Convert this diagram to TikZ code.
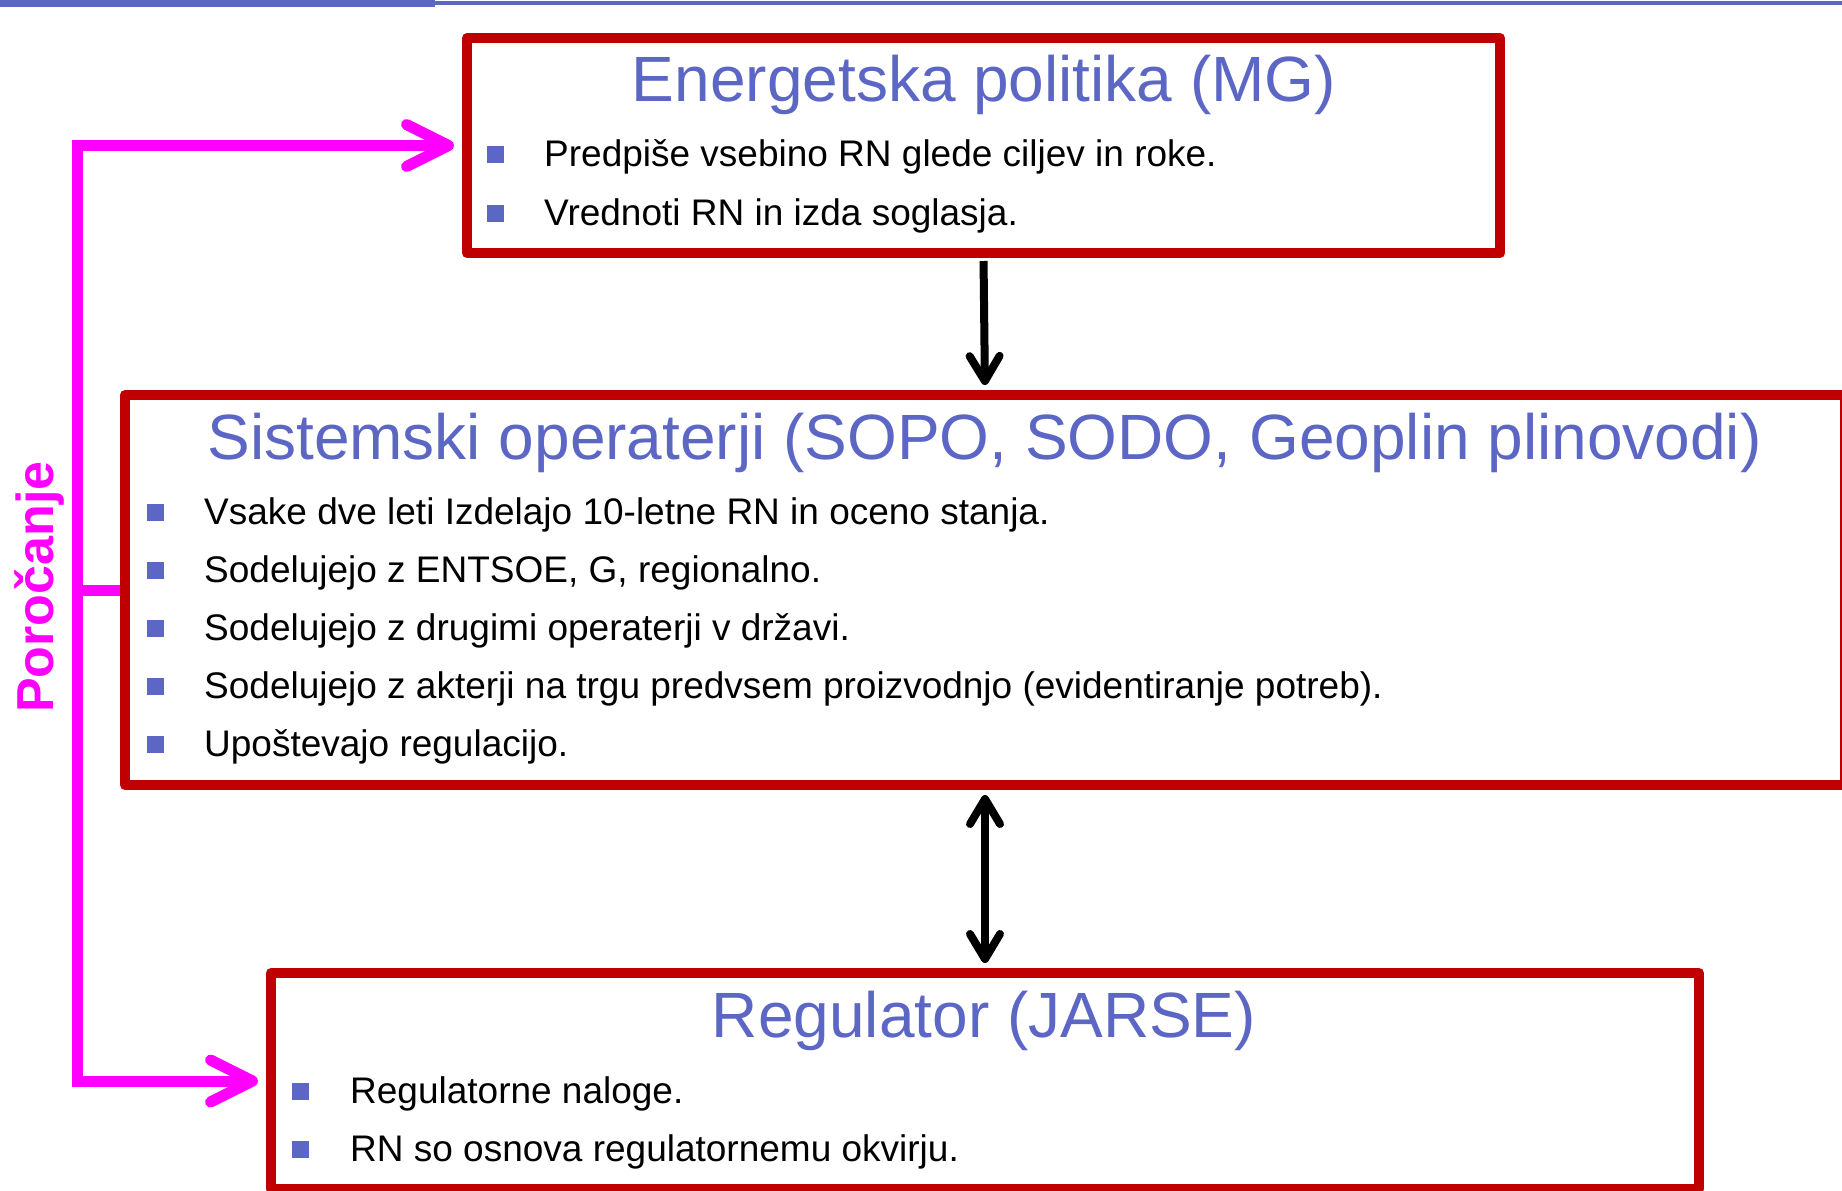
\documentclass[tikz,border=0pt]{standalone}
\usepackage{fontspec}
\setmainfont{Liberation Sans}
\usepackage{xcolor}
\usepackage{tikz}
\usetikzlibrary{arrows.meta,positioning,calc}
\definecolor{boxred}{RGB}{192,0,0}
\definecolor{slideblue}{RGB}{92,102,196}
\definecolor{repmag}{RGB}{255,0,255}
\tikzset{
  box/.style   ={draw=boxred,line width=10pt,line join=round,inner sep=0pt},
  ttl/.style   ={text=slideblue,font=\fontsize{64}{70}\selectfont,inner sep=0pt,anchor=base},
  bul/.style   ={fill=slideblue,minimum size=17pt,inner sep=0pt},
  item/.style  ={font=\fontsize{37}{44}\selectfont,inner sep=0pt,anchor=base west},
  flow/.style  ={line width=8pt,black,shorten <=3pt,shorten >=5pt},
  rep/.style   ={line width=11pt,repmag,line join=miter},
  barb/.style  ={-{Straight Barb[round,length=25pt,width=30pt]}},
  pbarb/.style ={-{Straight Barb[round,length=42pt,width=42pt]}},
}
\begin{document}
\begin{tikzpicture}[x=1pt,y=-1pt]
  \useasboundingbox (0,0) rectangle (1842,1191);
  % slide rule on top
  \fill[slideblue] (0,0) rectangle (435,7);
  \fill[slideblue] (435,1) rectangle (1842,5);
  % ministry (policy)
  \node[box,minimum width=1033pt,minimum height=215pt] (P) at (983.5,145.5) {};
  \node[ttl] (Pt) at (984,101) {Energetska politika (MG)};
  \node[bul] (P1) at (495,154) {};
  \node[item] at (544,166) {Predpiše vsebino RN glede ciljev in roke.};
  \node[bul] (P2) at (495,213) {};
  \node[item] at (544,225) {Vrednoti RN in izda soglasja.};
  % system operators
  \node[box,minimum width=1720pt,minimum height=390pt] (S) at (985,590) {};
  \node[ttl] (St) at (984.5,459) {Sistemski operaterji (SOPO, SODO, Geoplin plinovodi)};
  \node[bul] (S1) at (155,512) {};
  \node[item] at (204,524) {Vsake dve leti Izdelajo 10-letne RN in oceno stanja.};
  \node[bul] (S2) at (155,570) {};
  \node[item] at (204,582) {Sodelujejo z ENTSOE, G, regionalno.};
  \node[bul] (S3) at (155,628) {};
  \node[item] at (204,640) {Sodelujejo z drugimi operaterji v državi.};
  \node[bul] (S4) at (155,686) {};
  \node[item] at (204,698) {Sodelujejo z akterji na trgu predvsem proizvodnjo (evidentiranje potreb).};
  \node[bul] (S5) at (155,744) {};
  \node[item] at (204,756) {Upoštevajo regulacijo.};
  % regulator
  \node[box,minimum width=1428pt,minimum height=216pt] (R) at (985,1081) {};
  \node[ttl] (Rt) at (984,1037) {Regulator (JARSE)};
  \node[bul] (R1) at (300,1091) {};
  \node[item] at (350,1103) {Regulatorne naloge.};
  \node[bul] (R2) at (300,1149) {};
  \node[item] at (350,1161) {RN so osnova regulatornemu okvirju.};
  % policy -> operators, operators <-> regulator
  \draw[flow,barb] (P.south) -- (S.north);
  \draw[flow,shorten <=5pt,{Straight Barb[round,length=25pt,width=30pt]}-{Straight Barb[round,length=25pt,width=30pt]}] (S.south) -- (R.north);
  % reporting bracket
  \draw[rep] (S.west) -- ++(-42.5,0) coordinate (J);
  \draw[rep,pbarb,shorten >=8pt] (J) |- (P.west);
  \draw[rep,pbarb,shorten >=8pt] (J) |- (R.west);
  \node[font=\fontsize{52}{60}\selectfont\bfseries,text=repmag,rotate=90,anchor=base,inner sep=0pt] (L) at (53,587) {Poročanje};
\end{tikzpicture}
\end{document}
